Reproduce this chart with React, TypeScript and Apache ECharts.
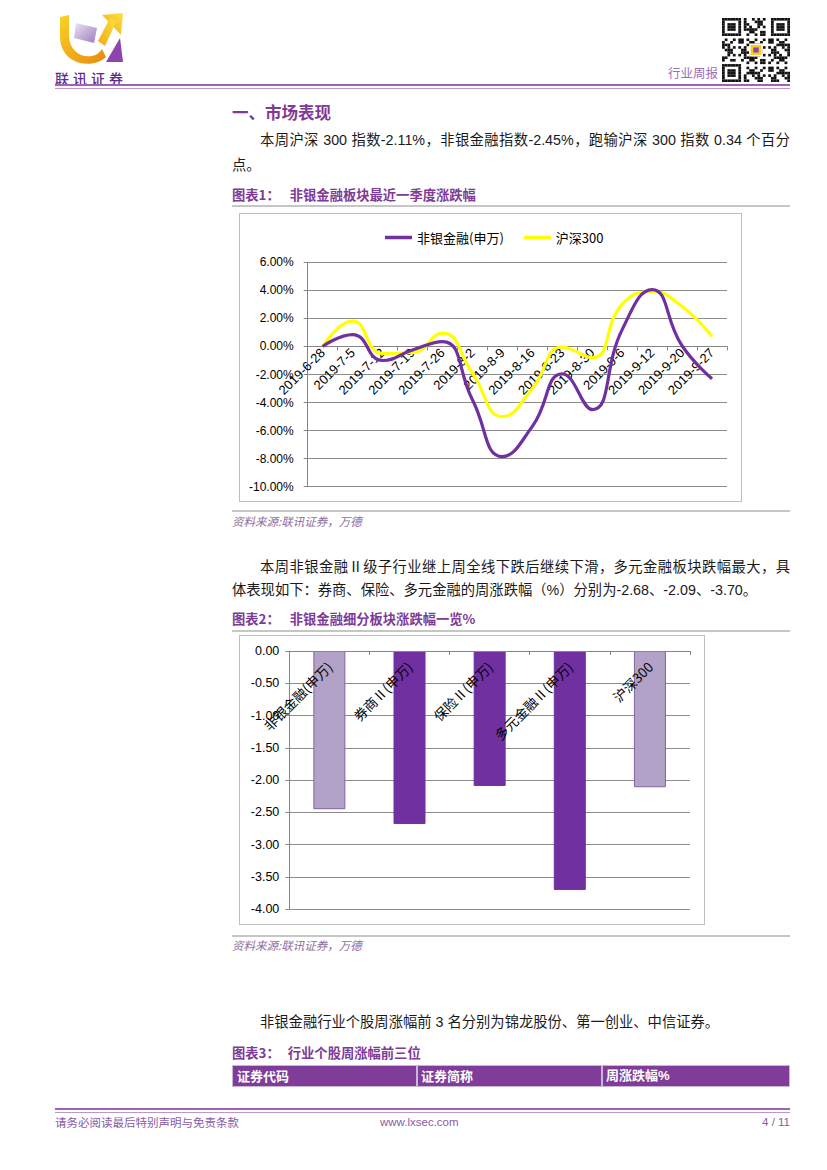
import React, { useEffect, useRef } from "react";
import * as echarts from "echarts";

// ---------- data ----------
const weekDates = [
  "2019-6-28", "2019-7-5", "2019-7-12", "2019-7-19", "2019-7-26", "2019-8-2", "2019-8-9",
  "2019-8-16", "2019-8-23", "2019-8-30", "2019-9-6", "2019-9-12", "2019-9-20", "2019-9-27",
];
const nonBankCum = [0, 0.85, -1.0, -0.25, 0.35, -3.8, -7.85, -5.7, -1.95, -4.5, 1.2, 4.05, 0.05, -2.3];
const hs300Cum = [0, 1.8, -0.5, -0.45, 0.95, -1.9, -5.0, -3.0, -0.05, -0.8, 3.0, 3.9, 2.85, 0.7];
const lineYMin = -10;
const lineYMax = 6;
const lineYStep = 2;

const sectorNames = ["非银金融(申万)", "券商Ⅱ(申万)", "保险Ⅱ(申万)", "多元金融Ⅱ(申万)", "沪深300"];
const sectorChanges = [-2.45, -2.68, -2.09, -3.7, -2.11];
const benchmarkNames = ["非银金融(申万)", "沪深300"];
const barYMin = -4;
const barYMax = 0;
const barYStep = 0.5;

const tableHeaders = ["证券代码", "证券简称", "周涨跌幅%"];

// ---------- styles ----------
const LAT = '"Liberation Sans", "Noto Sans CJK SC", sans-serif';
const CJK = '"Noto Sans CJK SC", "Liberation Sans", sans-serif';
const PURPLE_TXT = "#7e3a96";
const AXIS = "#868686";
const GRID = "#8c8c8c";

function useChart(ref: any, option: any) {
  useEffect(() => {
    const chart = echarts.init(ref.current, null, { renderer: "svg" });
    chart.setOption(option);
    return () => chart.dispose();
  }, []);
}

// chart 1 layout (inner box 501 x 287)
const G1 = { left: 67.7, top: 48.3, right: 14, bottom: 14.3 };
const G1H = 287 - G1.top - G1.bottom;
// chart 2 layout (inner box 464 x 288)
const G2 = { left: 49.3, top: 15, right: 14, bottom: 14.7 };
const G2H = 288 - G2.top - G2.bottom;

function LineChart() {
  const ref = useRef<HTMLDivElement>(null);
  const zeroOffset = -G1H * (0 - lineYMin) / (lineYMax - lineYMin);
  const option = {
    animation: false,
    textStyle: { fontFamily: LAT },
    legend: {
      top: 12,
      left: 140,
      icon: "rect",
      itemWidth: 27,
      itemHeight: 3.5,
      itemGap: 20,
      data: ["非银金融(申万)", "沪深300"],
      textStyle: { fontSize: 13, color: "#000", fontFamily: CJK },
    },
    grid: { ...G1, outerBoundsMode: "none" },
    xAxis: {
      type: "category",
      data: weekDates,
      boundaryGap: true,
      position: "bottom",
      offset: zeroOffset,
      axisLine: { onZero: false, lineStyle: { color: AXIS } },
      axisTick: { show: true, interval: 0, length: 4, lineStyle: { color: AXIS } },
      axisLabel: { interval: 0, rotate: 45, margin: 4, fontSize: 13, color: "#000", fontFamily: LAT },
      splitLine: { show: false },
    },
    yAxis: {
      type: "value",
      min: lineYMin,
      max: lineYMax,
      interval: lineYStep,
      axisLine: { show: true, lineStyle: { color: AXIS } },
      axisTick: { show: true, length: 4, lineStyle: { color: AXIS } },
      axisLabel: {
        formatter: (v: number) => v.toFixed(2) + "%",
        margin: 14,
        fontSize: 12,
        color: "#000",
        fontFamily: LAT,
      },
      splitLine: { show: true, lineStyle: { color: GRID } },
    },
    series: [
      {
        name: "沪深300",
        type: "line",
        data: hs300Cum,
        smooth: 0.5,
        showSymbol: false,
        lineStyle: { width: 3.2, color: "#FFFF00" },
        itemStyle: { color: "#FFFF00" },
      },
      {
        name: "非银金融(申万)",
        type: "line",
        data: nonBankCum,
        smooth: 0.5,
        showSymbol: false,
        lineStyle: { width: 3.2, color: "#7030A0" },
        itemStyle: { color: "#7030A0" },
      },
    ],
  };
  useChart(ref, option);
  return (
    <div
      ref={ref}
      style={{
        position: "absolute",
        left: 239,
        top: 213,
        width: 503,
        height: 289,
        border: "1px solid #bfbfbf",
        boxSizing: "border-box",
        background: "#fff",
      }}
    />
  );
}

function BarChart() {
  const ref = useRef<HTMLDivElement>(null);
  const zeroOffset = -G2H * (0 - barYMin) / (barYMax - barYMin);
  const option = {
    animation: false,
    textStyle: { fontFamily: LAT },
    grid: { ...G2, outerBoundsMode: "none" },
    xAxis: {
      type: "category",
      data: sectorNames,
      z: 10,
      position: "bottom",
      offset: zeroOffset,
      axisLine: { onZero: false, lineStyle: { color: AXIS } },
      axisTick: { show: true, interval: 0, length: 4, lineStyle: { color: AXIS } },
      axisLabel: { interval: 0, rotate: 45, margin: 13, fontSize: 13.5, color: "#000", fontFamily: CJK },
    },
    yAxis: {
      type: "value",
      min: barYMin,
      max: barYMax,
      interval: barYStep,
      axisLine: { show: true, lineStyle: { color: AXIS } },
      axisTick: { show: true, length: 4, lineStyle: { color: AXIS } },
      axisLabel: { formatter: (v: number) => v.toFixed(2), margin: 10, fontSize: 12.5, color: "#000", fontFamily: LAT },
      splitLine: { show: true, lineStyle: { color: GRID } },
    },
    series: [
      {
        type: "bar",
        barWidth: 32,
        data: sectorChanges.map((v, i) => {
          const light = benchmarkNames.includes(sectorNames[i]);
          return {
            value: v,
            itemStyle: light
              ? { color: "#b3a2c7", borderColor: "#8064a2", borderWidth: 1 }
              : { color: "#7030a0", borderColor: "#7030a0", borderWidth: 1 },
          };
        }),
      },
    ],
  };
  useChart(ref, option);
  return (
    <div
      ref={ref}
      style={{
        position: "absolute",
        left: 239,
        top: 635,
        width: 466,
        height: 290,
        border: "1px solid #bfbfbf",
        boxSizing: "border-box",
        background: "#fff",
      }}
    />
  );
}

function Txt(props: any) {
  const { x, y, w, size = 14.3, lh = 20, justify = false, color = "#1a1a1a", bold = false, italic = false, family = LAT, children, extra } = props;
  return (
    <div
      style={{
        position: "absolute",
        left: x,
        top: y - lh / 2,
        width: w,
        lineHeight: lh + "px",
        fontSize: size,
        fontFamily: family,
        color,
        fontWeight: bold ? 700 : 400,
        fontStyle: italic ? "italic" : "normal",
        textAlign: justify ? "justify" : "left",
        textAlignLast: justify ? "justify" : "auto",
        whiteSpace: justify ? "normal" : "nowrap",
        ...(extra || {}),
      }}
    >
      {children}
    </div>
  );
}

function HRule({ x, y, w, h, color }: any) {
  return <div style={{ position: "absolute", left: x, top: y, width: w, height: h, background: color }} />;
}

function Logo() {
  return (
    <svg style={{ position: "absolute", left: 50, top: 5 }} width={90} height={85} viewBox="0 0 90 85">
      <defs>
        <linearGradient id="lgY" x1="0" y1="0" x2="1" y2="1">
          <stop offset="0" stopColor="#f9d423" />
          <stop offset="1" stopColor="#e88a12" />
        </linearGradient>
        <linearGradient id="lgA" x1="0" y1="1" x2="1" y2="0">
          <stop offset="0" stopColor="#f0a81a" />
          <stop offset="1" stopColor="#fbe23a" />
        </linearGradient>
        <linearGradient id="lgP" x1="0" y1="0" x2="1" y2="1">
          <stop offset="0" stopColor="#ece4f4" />
          <stop offset="1" stopColor="#9c7cc0" />
        </linearGradient>
      </defs>
      <path d="M10 12 L19 10 L19 32 C20 45 30 53 42 51 C47 50 50 47 52 44 L56 52 C50 58 40 60 30 58 C18 55 10 45 10 32 Z" fill="url(#lgY)" />
      <path d="M52 10 L73 8 L71 30 Z" fill="url(#lgA)" />
      <path d="M66 17 L55 41 L48 36 L60 13 Z" fill="url(#lgA)" />
      <path d="M26 18 L47 23 L44 38 L24 33 Z" fill="url(#lgP)" />
      <path d="M56 57 L70 33 L73 57 Z" fill="#8e44ad" />
      <text x={5} y={79} fontSize={14} fontWeight={500} fill="#5e2c88" fontFamily={CJK} letterSpacing={4}>
        联讯证券
      </text>
    </svg>
  );
}

function QR() {
  const N = 25;
  const cells: any[] = [];
  const finder = (r: number, c: number, r0: number, c0: number) => {
    const rr = r - r0, cc = c - c0;
    if (rr < 0 || cc < 0 || rr > 6 || cc > 6) return null;
    if (rr === 0 || rr === 6 || cc === 0 || cc === 6) return true;
    if (rr >= 2 && rr <= 4 && cc >= 2 && cc <= 4) return true;
    return false;
  };
  for (let r = 0; r < N; r++) {
    for (let c = 0; c < N; c++) {
      let on: any = finder(r, c, 0, 0);
      if (on === null) on = finder(r, c, 0, N - 7);
      if (on === null) on = finder(r, c, N - 7, 0);
      if (on === null) {
        if ((r === 7 && c < 8) || (c === 7 && r < 8) || (r === 7 && c >= N - 8) || (c === N - 8 && r < 8) || (r === N - 8 && c < 8) || (c === 7 && r >= N - 8)) on = false;
        else on = (r * 31 + c * 17 + r * c * 7) % 11 < 5;
      }
      if (on) cells.push(<rect key={r + "-" + c} x={c} y={r} width={1.02} height={1.02} fill="#111" />);
    }
  }
  return (
    <svg style={{ position: "absolute", left: 722, top: 18 }} width={68} height={64} viewBox="0 0 25 25" preserveAspectRatio="none">
      <rect x={0} y={0} width={25} height={25} fill="#fff" />
      {cells}
      <rect x={10} y={10} width={5} height={5} fill="#fff" />
      <rect x={10.5} y={10.5} width={4} height={4} fill="#f5d020" />
      <rect x={11.5} y={11.5} width={2} height={2} fill="#8e44ad" />
    </svg>
  );
}

export default function App() {
  return (
    <div
      style={{
        position: "absolute",
        left: 0,
        top: 0,
        width: 827,
        height: 1170,
        background: "#fff",
        overflow: "hidden",
      }}
    >
      <Logo />
      <Txt x={668} y={73} size={12.5} color="#9b6fb8" family={CJK}>行业周报</Txt>
      <QR />
      <HRule x={55} y={83.5} w={735} h={2.5} color="#9b64b5" />
      <HRule x={55} y={87.5} w={735} h={1.2} color="#bb98cc" />

      <Txt x={232} y={112} size={16.5} bold color={PURPLE_TXT} family={CJK}>一、市场表现</Txt>
      <Txt x={260} y={140} w={530} justify>本周沪深 300 指数-2.11%，非银金融指数-2.45%，跑输沪深 300 指数 0.34 个百分</Txt>
      <Txt x={232} y={165}>点。</Txt>

      <Txt x={232} y={195} size={13.3} bold color={PURPLE_TXT} family={CJK}>
        图表1：<span style={{ marginLeft: 10 }}>非银金融板块最近一季度涨跌幅</span>
      </Txt>
      <HRule x={232} y={205} w={558} h={2} color="#c6c6c6" />
      <LineChart />
      <HRule x={232} y={510} w={558} h={2} color="#c6c6c6" />
      <Txt x={232} y={521} size={11.5} italic color="#8d6e9c" family={CJK}>资料来源:联讯证券，万德</Txt>

      <Txt x={260} y={567} w={530} justify>本周非银金融Ⅱ级子行业继上周全线下跌后继续下滑，多元金融板块跌幅最大，具</Txt>
      <Txt x={232} y={590}>体表现如下：券商、保险、多元金融的周涨跌幅（%）分别为-2.68、-2.09、-3.70。</Txt>

      <Txt x={232} y={619} size={13.3} bold color={PURPLE_TXT} family={CJK}>
        图表2：<span style={{ marginLeft: 10 }}>非银金融细分板块涨跌幅一览%</span>
      </Txt>
      <HRule x={232} y={630} w={558} h={2} color="#c6c6c6" />
      <BarChart />
      <HRule x={232} y={935} w={558} h={2} color="#c6c6c6" />
      <Txt x={232} y={945} size={11.5} italic color="#8d6e9c" family={CJK}>资料来源:联讯证券，万德</Txt>

      <Txt x={260} y={1022}>非银金融行业个股周涨幅前 3 名分别为锦龙股份、第一创业、中信证券。</Txt>
      <Txt x={232} y={1053} size={13.3} bold color={PURPLE_TXT} family={CJK}>
        图表3：<span style={{ marginLeft: 8 }}>行业个股周涨幅前三位</span>
      </Txt>
      <div
        style={{
          position: "absolute",
          left: 232,
          top: 1065,
          width: 558,
          height: 22,
          background: "#7f3c98",
          border: "1px solid #c9b6d6",
          boxSizing: "border-box",
        }}
      />
      <div style={{ position: "absolute", left: 416, top: 1066, width: 1.5, height: 20, background: "#c9b6d6" }} />
      <div style={{ position: "absolute", left: 601, top: 1066, width: 1.5, height: 20, background: "#c9b6d6" }} />
      <Txt x={237} y={1076} size={13} bold color="#fff" family={CJK}>{tableHeaders[0]}</Txt>
      <Txt x={421} y={1076} size={13} bold color="#fff" family={CJK}>{tableHeaders[1]}</Txt>
      <Txt x={606} y={1076} size={13} bold color="#fff" family={LAT}>{tableHeaders[2]}</Txt>

      <HRule x={55} y={1107.5} w={735} h={2.5} color="#9b64b5" />
      <HRule x={55} y={1111.5} w={735} h={1.2} color="#bb98cc" />
      <Txt x={55} y={1122} size={11.5} color="#8a5aa8" family={CJK}>请务必阅读最后特别声明与免责条款</Txt>
      <Txt x={380} y={1122} size={11.5} color="#8a5aa8" family={LAT}>www.lxsec.com</Txt>
      <Txt x={690} y={1122} w={100} size={11.5} color="#8a5aa8" family={LAT} extra={{ textAlign: "right" }}>4 / 11</Txt>
    </div>
  );
}
